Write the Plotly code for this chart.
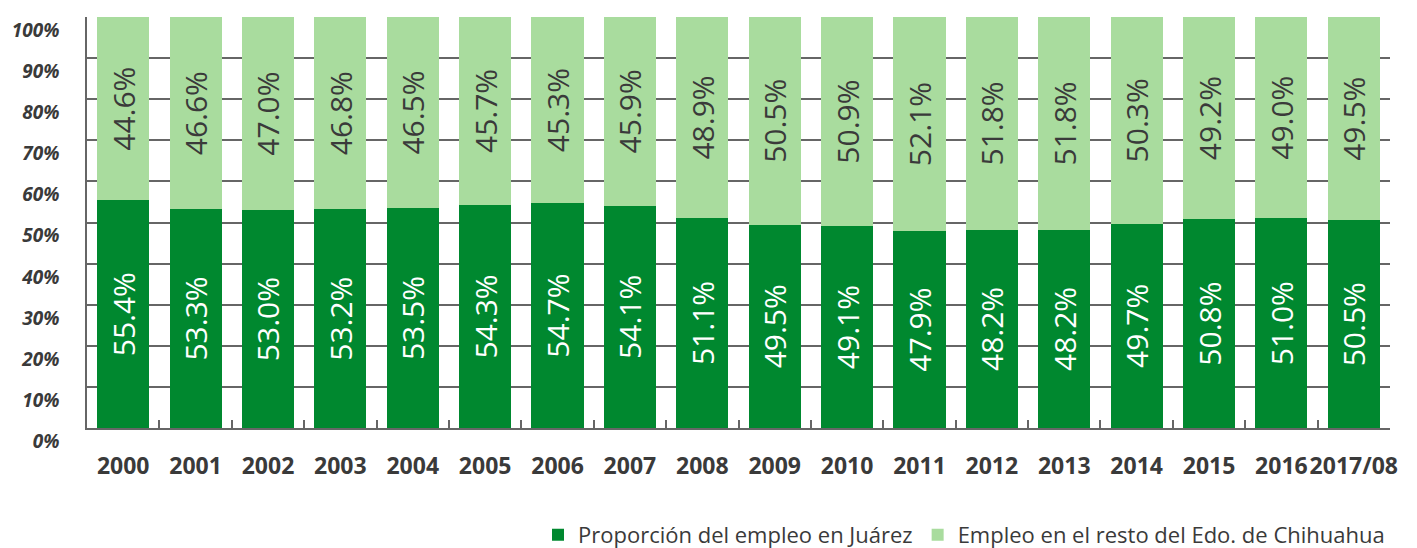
import plotly.graph_objects as go

years = ["2000", "2001", "2002", "2003", "2004", "2005", "2006", "2007", "2008",
         "2009", "2010", "2011", "2012", "2013", "2014", "2015", "2016", "2017/08"]
juarez = [55.4, 53.3, 53.0, 53.2, 53.5, 54.3, 54.7, 54.1, 51.1,
          49.5, 49.1, 47.9, 48.2, 48.2, 49.7, 50.8, 51.0, 50.5]
resto = [44.6, 46.6, 47.0, 46.8, 46.5, 45.7, 45.3, 45.9, 48.9,
         50.5, 50.9, 52.1, 51.8, 51.8, 50.3, 49.2, 49.0, 49.5]
y_ticks = [0, 10, 20, 30, 40, 50, 60, 70, 80, 90, 100]

FONT = "Open Sans"
DARK = "#00882f"
LIGHT = "#a9dc9e"
TXT = "#3a3a3a"

fig = go.Figure()
fig.add_trace(go.Bar(
    x=years, y=juarez, name="Proporción del empleo en Juárez",
    marker=dict(color=DARK, line=dict(width=0)),
    texttemplate="%{y:.1f}%", textposition="inside", insidetextanchor="middle",
    textangle=-90, insidetextfont=dict(family=FONT, size=30, color="white"),
    constraintext="none", hoverinfo="skip",
))
fig.add_trace(go.Bar(
    x=years, y=resto, name="Empleo en el resto del Edo. de Chihuahua",
    marker=dict(color=LIGHT, line=dict(width=0)),
    texttemplate="%{y:.1f}%", textposition="inside", insidetextanchor="middle",
    textangle=-90, insidetextfont=dict(family=FONT, size=30, color=TXT),
    constraintext="none", hoverinfo="skip",
))

fig.update_layout(
    barmode="stack", bargap=0.28,
    width=1417, height=548,
    margin=dict(l=87, r=27, t=17, b=120, autoexpand=False),
    plot_bgcolor="white", paper_bgcolor="white",
    font=dict(family=FONT, color=TXT),
    legend=dict(orientation="h", x=1, xanchor="right", y=-0.26, yanchor="middle",
                font=dict(family=FONT, size=22, color=TXT),
                traceorder="normal", itemwidth=30),
    showlegend=True,
)
fig.update_xaxes(
    type="category", showline=True, linecolor="#666666", linewidth=1.5,
    ticks="inside", tickson="boundaries", ticklen=8, tickcolor="#666666", tickwidth=1.5,
    tickfont=dict(family=FONT, size=23, color=TXT, weight="bold"),
    tickangle=0, ticklabelstandoff=17, showgrid=False, automargin=False,
)
fig.update_yaxes(
    range=[0, 100], tickvals=y_ticks, ticktext=[f"{v}%" for v in y_ticks],
    showgrid=True, gridcolor="#666666", gridwidth=1.5,
    showline=True, linecolor="#666666", linewidth=1.5,
    zeroline=False, ticks="", ticklabelposition="outside bottom",
    tickfont=dict(family=FONT, size=19, color=TXT, weight="bold", style="italic"),
    ticklabelstandoff=22, automargin=False,
)

fig.write_html("out.html", config={"displayModeBar": False},
               post_script="document.body.style.margin='0';document.body.style.overflow='hidden';")
